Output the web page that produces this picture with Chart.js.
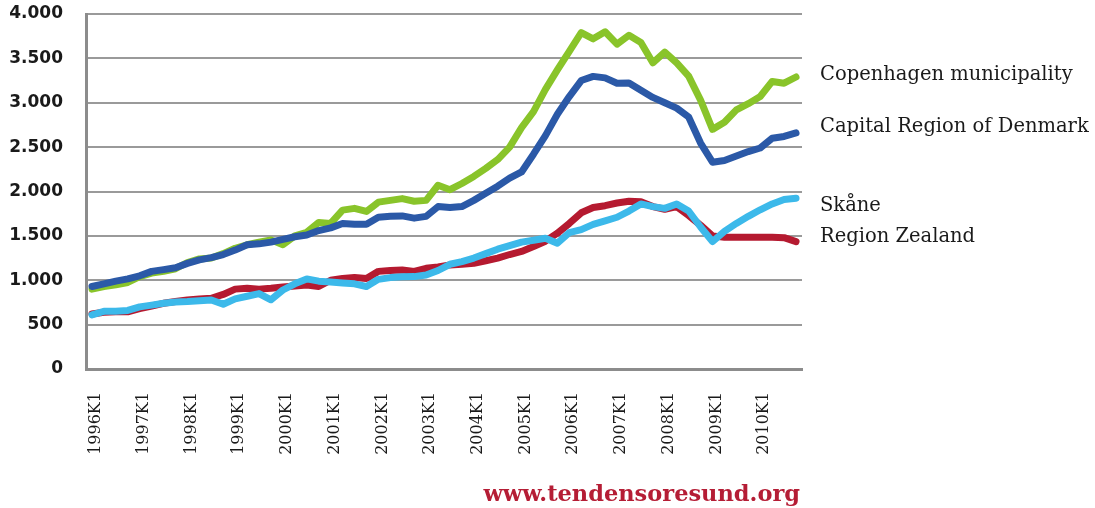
<!DOCTYPE html>
<html>
<head>
<meta charset="utf-8">
<script src="https://cdn.jsdelivr.net/npm/chart.js@4.4.1/dist/chart.umd.min.js"></script>
<style>
  html, body { margin: 0; padding: 0; background: #fff; }
  #wrap { width: 1095px; height: 508px; position: relative; }
</style>
</head>
<body>
<div id="wrap"><canvas id="priceChart"></canvas></div>
<script>
// Quarterly series 1996K1 - 2010K4
const years = ['1996','1997','1998','1999','2000','2001','2002','2003','2004','2005','2006','2007','2008','2009','2010'];
const quarters = years.flatMap(y => [y + 'K1', y + 'K2', y + 'K3', y + 'K4']);

const copenhagen = [
  900, 930, 950, 975, 1040, 1080, 1100, 1130, 1200, 1240, 1250, 1300,
  1360, 1400, 1430, 1455, 1400, 1500, 1540, 1650, 1640, 1790, 1810, 1775,
  1880, 1900, 1920, 1890, 1900, 2070, 2020, 2090, 2170, 2260, 2360, 2500,
  2720, 2900, 3150, 3370, 3580, 3790, 3720, 3800, 3660, 3760, 3680, 3450,
  3570, 3450, 3300, 3030, 2700, 2780, 2920, 2990, 3070, 3240, 3220, 3290
];
const capitalRegion = [
  930, 960, 990, 1015, 1050, 1100, 1120, 1140, 1190, 1230, 1255, 1290,
  1340, 1400, 1410, 1430, 1460, 1490, 1510, 1560, 1590, 1640, 1630, 1630,
  1710, 1720, 1725, 1700, 1720, 1830, 1820, 1830, 1900, 1980, 2060, 2150,
  2220, 2420, 2630, 2870, 3070, 3250, 3297, 3280, 3220, 3222, 3140, 3060,
  3000, 2940, 2840, 2546, 2330, 2350, 2400, 2450, 2490, 2600, 2620, 2660
];
const skane = [
  610, 650, 650, 660, 700, 720, 740, 755, 760, 770, 778, 730,
  790, 820, 850, 780, 890, 960, 1015, 990, 980, 970, 960, 930,
  1010, 1030, 1040, 1041, 1060, 1110, 1180, 1210, 1250, 1300, 1350, 1390,
  1430, 1450, 1474, 1418, 1537, 1570, 1630, 1670, 1710, 1780, 1860, 1830,
  1810, 1860, 1780, 1600, 1436, 1550, 1640, 1720, 1794, 1860, 1910, 1925
];
const regionZealand = [
  620, 640, 645, 645, 680, 710, 740, 760, 778, 790, 797, 840,
  900, 910, 900, 910, 925, 935, 945, 930, 1000, 1020, 1030, 1020,
  1100, 1110, 1115, 1100, 1135, 1150, 1173, 1180, 1192, 1220, 1250, 1290,
  1325, 1380, 1440, 1530, 1640, 1760, 1820, 1840, 1870, 1890, 1885, 1830,
  1800, 1830, 1730, 1620, 1500, 1485, 1485, 1485, 1485, 1485, 1480, 1436
];

const yTicks = [0, 500, 1000, 1500, 2000, 2500, 3000, 3500, 4000];

// series names written beside the line ends (dy = pixel nudge)
const endLabels = [
  { name: 'Copenhagen municipality', dy: -2 },
  { name: 'Capital Region of Denmark', dy: -6 },
  { name: 'Skåne', dy: 8 },
  { name: 'Region Zealand', dy: -5 }
];

const endLabelPlugin = {
  id: 'endLabels',
  afterDatasetsDraw(chart) {
    const ctx = chart.ctx;
    const x = chart.chartArea.right + 18;
    ctx.save();
    ctx.font = '19.5px "DejaVu Serif"';
    ctx.fillStyle = '#1a1a1a';
    ctx.textBaseline = 'middle';
    chart.data.datasets.forEach((ds, i) => {
      const last = ds.data[ds.data.length - 1];
      const y = chart.scales.y.getPixelForValue(last) + endLabels[i].dy;
      ctx.fillText(endLabels[i].name, x, y);
    });
    // site credit under the axis labels
    ctx.font = 'bold 22.5px "DejaVu Serif"';
    ctx.fillStyle = '#b51d35';
    ctx.textAlign = 'right';
    ctx.fillText('www.tendensoresund.org', 800, 495);
    ctx.restore();
  }
};

const fmt = v => v.toLocaleString('da-DK');

const ctx = document.getElementById('priceChart').getContext('2d');
new Chart(ctx, {
  type: 'line',
  data: {
    labels: quarters,
    datasets: [
      { label: 'Copenhagen municipality', data: copenhagen, borderColor: '#89c42a', order: 2 },
      { label: 'Capital Region of Denmark', data: capitalRegion, borderColor: '#2b59a7', order: 1 },
      { label: 'Skåne', data: skane, borderColor: '#3cb9ea', order: 1 },
      { label: 'Region Zealand', data: regionZealand, borderColor: '#b51a30', order: 2 }
    ]
  },
  options: {
    responsive: true,
    maintainAspectRatio: false,
    animation: false,
    elements: {
      line: { borderWidth: 7, tension: 0, borderJoinStyle: 'round', borderCapStyle: 'round', fill: false },
      point: { radius: 0, hoverRadius: 0 }
    },
    layout: { padding: { top: 14, right: 293, bottom: 0, left: 0 } },
    plugins: {
      legend: { display: false },
      tooltip: { enabled: false }
    },
    scales: {
      x: {
        offset: true,
        grid: { display: false },
        border: { display: true, color: '#8c8c8c', width: 3 },
        afterFit: s => { s.height = 139; s.paddingLeft = 0; s.paddingRight = 0; },
        ticks: {
          autoSkip: false,
          minRotation: 90,
          maxRotation: 90,
          padding: 15,
          labelOffset: 4,
          color: '#1a1a1a',
          font: { family: '"DejaVu Serif"', size: 16 },
          callback: (v, i) => (i % 4 === 0 ? quarters[i] : '')
        }
      },
      y: {
        min: 0,
        max: 4000,
        afterFit: s => { s.width = 86; s.paddingTop = 0; s.paddingBottom = 0; },
        afterBuildTicks: s => { s.ticks = yTicks.map(v => ({ value: v })); },
        grid: { color: '#9a9a9a', lineWidth: 2, drawTicks: false },
        border: { display: true, color: '#8c8c8c', width: 3 },
        ticks: {
          padding: 23,
          color: '#1a1a1a',
          font: { family: '"DejaVu Sans"', size: 17, weight: 'bold' },
          callback: v => fmt(v)
        }
      }
    }
  },
  plugins: [endLabelPlugin]
});
</script>
</body>
</html>
